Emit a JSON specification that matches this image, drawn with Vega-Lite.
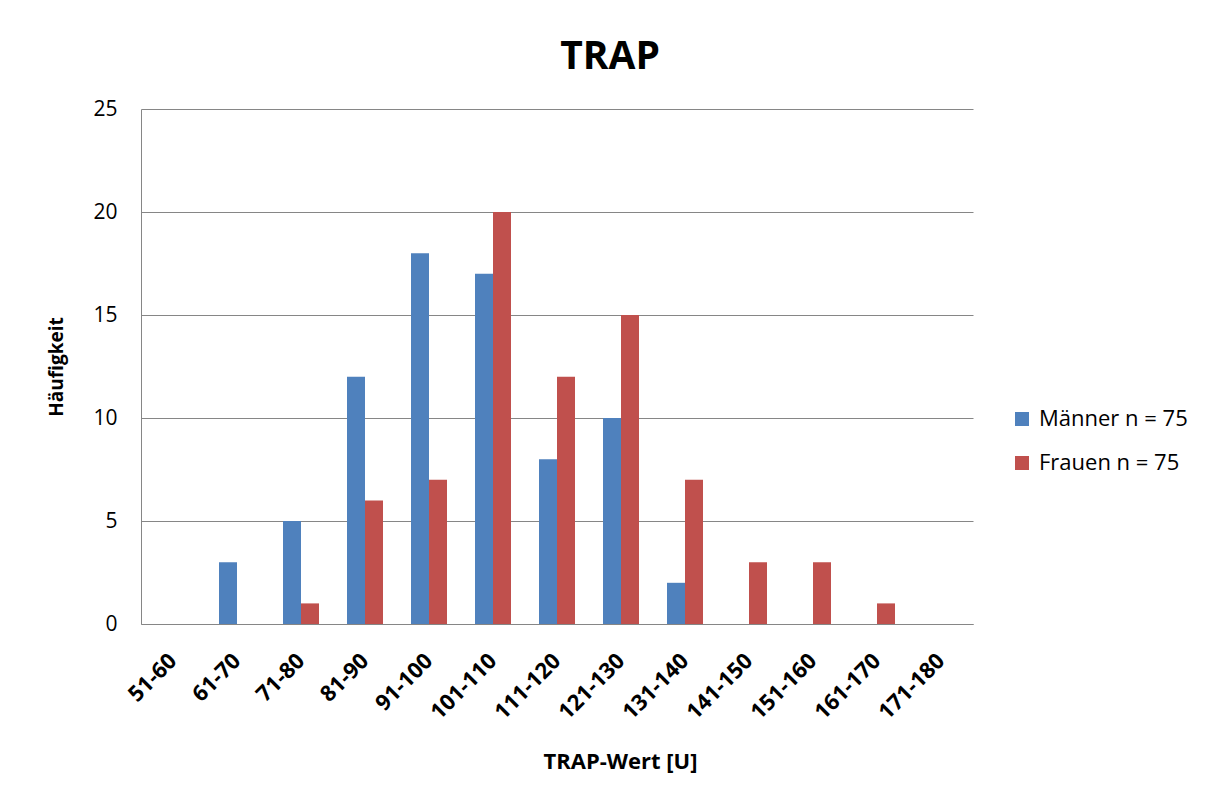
{
  "$schema": "https://vega.github.io/schema/vega-lite/v6.json",
  "width": 832,
  "height": 515,
  "autosize": "none",
  "padding": {"left": 141, "top": 109, "right": 233, "bottom": 170},
  "background": "white",
  "title": {"text": "TRAP", "font": "Open Sans", "fontSize": 39, "fontWeight": "bold", "color": "black", "anchor": "middle", "dx": 53, "offset": 21},
  "data": {"values": [
    {"bin": "51-60", "gender": "Männer n = 75", "count": 0},
    {"bin": "51-60", "gender": "Frauen n = 75", "count": 0},
    {"bin": "61-70", "gender": "Männer n = 75", "count": 3},
    {"bin": "61-70", "gender": "Frauen n = 75", "count": 0},
    {"bin": "71-80", "gender": "Männer n = 75", "count": 5},
    {"bin": "71-80", "gender": "Frauen n = 75", "count": 1},
    {"bin": "81-90", "gender": "Männer n = 75", "count": 12},
    {"bin": "81-90", "gender": "Frauen n = 75", "count": 6},
    {"bin": "91-100", "gender": "Männer n = 75", "count": 18},
    {"bin": "91-100", "gender": "Frauen n = 75", "count": 7},
    {"bin": "101-110", "gender": "Männer n = 75", "count": 17},
    {"bin": "101-110", "gender": "Frauen n = 75", "count": 20},
    {"bin": "111-120", "gender": "Männer n = 75", "count": 8},
    {"bin": "111-120", "gender": "Frauen n = 75", "count": 12},
    {"bin": "121-130", "gender": "Männer n = 75", "count": 10},
    {"bin": "121-130", "gender": "Frauen n = 75", "count": 15},
    {"bin": "131-140", "gender": "Männer n = 75", "count": 2},
    {"bin": "131-140", "gender": "Frauen n = 75", "count": 7},
    {"bin": "141-150", "gender": "Männer n = 75", "count": 0},
    {"bin": "141-150", "gender": "Frauen n = 75", "count": 3},
    {"bin": "151-160", "gender": "Männer n = 75", "count": 0},
    {"bin": "151-160", "gender": "Frauen n = 75", "count": 3},
    {"bin": "161-170", "gender": "Männer n = 75", "count": 0},
    {"bin": "161-170", "gender": "Frauen n = 75", "count": 1},
    {"bin": "171-180", "gender": "Männer n = 75", "count": 0},
    {"bin": "171-180", "gender": "Frauen n = 75", "count": 0}
  ]},
  "mark": {"type": "bar"},
  "encoding": {
    "x": {
      "field": "bin", "type": "nominal",
      "sort": ["51-60", "61-70", "71-80", "81-90", "91-100", "101-110", "111-120", "121-130", "131-140", "141-150", "151-160", "161-170", "171-180"],
      "scale": {"paddingInner": 0.4375, "paddingOuter": 0.21875},
      "axis": {
        "title": "TRAP-Wert [U]",
        "titleFont": "Open Sans", "titleFontSize": 22, "titleFontWeight": "bold", "titleColor": "black",
        "titleX": 479, "titleY": 127, "titleAnchor": "middle", "titleBaseline": "top",
        "labelAngle": -45, "labelAlign": "right", "labelBaseline": "middle",
        "labelFont": "Open Sans", "labelFontSize": 22, "labelFontWeight": "bold", "labelColor": "black",
        "labelPadding": 33,
        "ticks": false, "grid": false,
        "domain": true, "domainColor": "#868686", "domainWidth": 1
      }
    },
    "xOffset": {
      "field": "gender", "type": "nominal",
      "sort": ["Männer n = 75", "Frauen n = 75"],
      "scale": {"paddingInner": 0, "paddingOuter": 0}
    },
    "y": {
      "field": "count", "type": "quantitative",
      "scale": {"domain": [0, 25], "nice": false},
      "axis": {
        "values": [0, 5, 10, 15, 20, 25],
        "title": "Häufigkeit",
        "titleFont": "Open Sans", "titleFontSize": 19, "titleFontWeight": "bold", "titleColor": "black",
        "titlePadding": 26,
        "labelFont": "Open Sans", "labelFontSize": 21, "labelColor": "black", "labelPadding": 24,
        "ticks": false,
        "grid": true, "gridColor": "#868686", "gridWidth": 1,
        "domain": true, "domainColor": "#868686", "domainWidth": 1
      }
    },
    "color": {
      "field": "gender", "type": "nominal",
      "sort": ["Männer n = 75", "Frauen n = 75"],
      "scale": {"domain": ["Männer n = 75", "Frauen n = 75"], "range": ["#4F81BD", "#C0504D"]},
      "legend": {
        "title": null, "orient": "none", "legendX": 870, "legendY": 299,
        "symbolType": "square", "symbolSize": 196, "symbolStrokeWidth": 0,
        "labelFont": "Open Sans", "labelFontSize": 22, "labelColor": "black",
        "rowPadding": 22, "labelOffset": 6
      }
    }
  },
  "config": {"view": {"stroke": null}}
}
